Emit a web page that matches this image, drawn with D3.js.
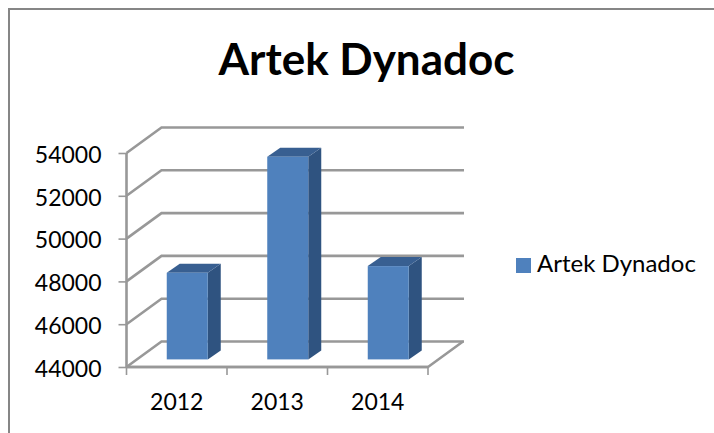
<!DOCTYPE html>
<html lang="en">
<head>
<meta charset="UTF-8">
<title>Artek Dynadoc</title>
<script src="https://cdnjs.cloudflare.com/ajax/libs/d3/7.8.5/d3.min.js"></script>
<style>
  html, body { margin: 0; padding: 0; background: #fff; }
  svg { display: block; }
  text { font-family: Lato, "Open Sans", sans-serif; fill: #000; }
</style>
</head>
<body>
<div id="chart"></div>
<script>
// data
const titleText = "Artek Dynadoc";
const seriesName = "Artek Dynadoc";
const years = ["2012", "2013", "2014"];
const values = [48050, 53470, 48360];
const yTicks = [44000, 46000, 48000, 50000, 52000, 54000];

const W = 714, H = 433;
const grey = "#989898";
const front = "#4f81bd", top3d = "#385f91", side3d = "#2f5380";

// plot front plane
const x0 = 126.5, x1 = 428, yBottom = 367, yTop = 153;
const depthX = 35, depthY = -25.5;      // floor/wall depth
const barDepthX = 13, barDepthY = -9;   // depth of a bar
const barInsetX = 11, barInsetY = -7.6; // bars stand a bit back on the floor

const svg = d3.select("#chart").append("svg")
  .attr("width", W).attr("height", H);

// chart frame, only top and left are inside the crop
svg.append("path")
  .attr("d", `M9,${H}V9H${W}`)
  .attr("fill", "none").attr("stroke", "#868686").attr("stroke-width", 2);

svg.append("text")
  .attr("x", 366.5).attr("y", 75)
  .attr("text-anchor", "middle")
  .attr("font-size", 44).attr("font-weight", 700)
  .text(titleText);

const y = d3.scaleLinear().domain([44000, 54000]).range([yBottom, yTop]);
const x = d3.scaleBand().domain(years).range([x0, x1]);

// gridlines: slanted piece on the wall plus the back line
const grid = svg.append("g").attr("fill", "none")
  .attr("stroke", grey).attr("stroke-width", 2.6);
grid.selectAll("path").data(yTicks).enter().append("path")
  .attr("d", d => `M${x0},${y(d)}L${x0 + depthX},${y(d) + depthY}H${x1 + depthX + 1}`);
// floor front and right edges
grid.append("path")
  .attr("d", `M${x0},${yBottom}H${x1}L${x1 + depthX},${yBottom + depthY}`);

// axes
const yAxis = d3.axisLeft(y).tickValues(yTicks).tickSize(8).tickPadding(17).tickFormat(d3.format("d"));
const gy = svg.append("g").attr("transform", `translate(${x0},0)`).call(yAxis);
const xAxis = d3.axisBottom(x).tickSize(0).tickPadding(27);
const gx = svg.append("g").attr("transform", `translate(0,${yBottom})`).call(xAxis);
// x ticks sit between the categories
gx.selectAll(".boundary").data([x0, ...years.map(d => x(d) + x.bandwidth())]).enter()
  .append("line").attr("class", "boundary")
  .attr("x1", d => d).attr("x2", d => d)
  .attr("y1", 0).attr("y2", 8);
[gy, gx].forEach(g => {
  g.selectAll("line").attr("stroke", grey).attr("stroke-width", 1.6);
  g.select("path.domain").attr("stroke", grey).attr("stroke-width", 2.6);
  g.selectAll("text").attr("font-size", 23).style("font-family", "Lato");
});
gy.selectAll("text").attr("dy", "0.4em");
gy.select("path.domain").attr("d", `M0,${yTop}V${yBottom}`);
gx.select("path.domain").attr("d", `M${x0},0H${x1}`);

// bars
const barW = 41;
const bars = svg.append("g").selectAll("g").data(values).enter().append("g");
const bx = (d, i) => x(years[i]) + x.bandwidth() / 2 - barW / 2 + barInsetX - 0.5;
const by = d => y(d) + barInsetY;
const base = yBottom + barInsetY;

bars.append("path").attr("fill", side3d)
  .attr("d", (d, i) => {
    const r = bx(d, i) + barW;
    return `M${r},${by(d)}l${barDepthX},${barDepthY}V${base + barDepthY}L${r},${base}Z`;
  });
bars.append("path").attr("fill", top3d)
  .attr("d", (d, i) => {
    const l = bx(d, i);
    return `M${l},${by(d)}l${barDepthX},${barDepthY}h${barW}l${-barDepthX},${-barDepthY}Z`;
  });
bars.append("rect").attr("fill", front)
  .attr("x", bx).attr("y", by)
  .attr("width", barW).attr("height", d => base - by(d));

// legend
svg.append("rect").attr("x", 516).attr("y", 258).attr("width", 15).attr("height", 15).attr("fill", front);
svg.append("text").attr("x", 537).attr("y", 272).attr("font-size", 24).text(seriesName);
</script>
</body>
</html>
